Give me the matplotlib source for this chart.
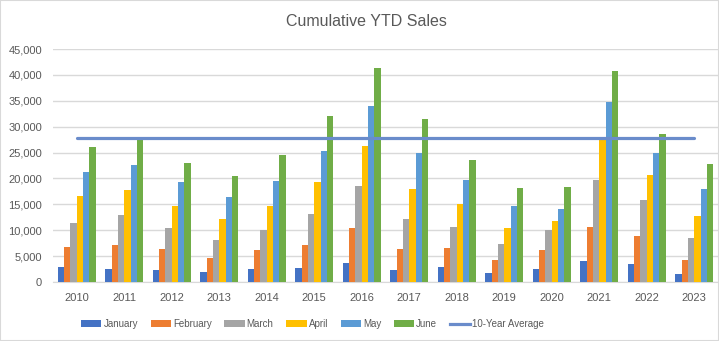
import matplotlib
matplotlib.use("Agg")
import matplotlib.pyplot as plt
import numpy as np
from matplotlib.patches import Rectangle
from matplotlib.lines import Line2D

plt.rcParams["font.family"] = ["Liberation Sans", "DejaVu Sans"]

years = ["2010", "2011", "2012", "2013", "2014", "2015", "2016", "2017",
         "2018", "2019", "2020", "2021", "2022", "2023"]
months = ["January", "February", "March", "April", "May", "June"]
january = [2900, 2500, 2400, 2000, 2600, 2800, 3700, 2300, 2900, 1800, 2600, 4100, 3500, 1600]
february = [6700, 7100, 6300, 4700, 6100, 7200, 10400, 6300, 6600, 4300, 6100, 10700, 8800, 4300]
march = [11300, 12900, 10500, 8200, 10100, 13100, 18500, 12100, 10700, 7300, 10000, 19700, 15900, 8500]
april = [16600, 17700, 14600, 12100, 14600, 19300, 26200, 17900, 15000, 10500, 11700, 27700, 20600, 12700]
may = [21200, 22600, 19300, 16400, 19500, 25300, 34000, 24900, 19700, 14600, 14100, 34700, 24900, 17900]
june = [26000, 27400, 23000, 20400, 24500, 32000, 41400, 31400, 23500, 18100, 18300, 40800, 28500, 22700]
ten_year_avg = [27800] * len(years)

series = [january, february, march, april, may, june]
colors = ["#4472C4", "#ED7D31", "#A5A5A5", "#FFC000", "#5B9BD5", "#70AD47"]
line_color = "#6A8CCB"
text_color = "#595959"

fig = plt.figure(figsize=(7.19, 3.41), dpi=100)
fig.patches.append(Rectangle((0, 0), 1, 1, transform=fig.transFigure,
                             fill=False, edgecolor="#D9D9D9", linewidth=1.5))
ax = fig.add_axes([53/719, 59/341, 665/719, (282-49)/341])

x = np.arange(len(years))
group_w = 0.80
bw = group_w / len(series)
handles = []
for i, (vals, c, name) in enumerate(zip(series, colors, months)):
    offs = -group_w/2 + bw*(i+0.5)
    b = ax.bar(x + offs, vals, width=bw, color=c, label=name, zorder=3)
    handles.append(b)

ln, = ax.plot(x, ten_year_avg, color=line_color, linewidth=2.3, zorder=4,
              label="10-Year Average", solid_capstyle="round")

ax.set_xlim(-0.5, len(years) - 0.5)
ax.set_ylim(0, 45000)
ax.set_yticks(np.arange(0, 45001, 5000))
ax.set_yticklabels([f"{v:,}" for v in range(0, 45001, 5000)])
ax.set_xticks(x)
ax.set_xticklabels(years)
ax.yaxis.grid(True, color="#D9D9D9", linewidth=1, zorder=0)
ax.set_axisbelow(True)
for s in ["top", "right", "left"]:
    ax.spines[s].set_visible(False)
ax.spines["bottom"].set_color("#D9D9D9")
ax.tick_params(axis="both", length=0, colors=text_color, labelsize=8)
ax.tick_params(axis="x", pad=8)
ax.tick_params(axis="y", pad=8)

fig.text(366/719, 1 - 21/341, "Cumulative YTD Sales", ha="center", va="center",
         fontsize=11.5, color=text_color)

leg_handles = handles + [Line2D([0], [0], color=line_color, linewidth=2.3)]
fig.legend(leg_handles, months + ["10-Year Average"], loc="center",
           bbox_to_anchor=(312.5/719, 1 - 324/341), ncol=7, frameon=False,
           fontsize=7, labelcolor=text_color, handlelength=2.1, handleheight=0.7,
           columnspacing=1.3, handletextpad=0.2)

fig.savefig("out.png", dpi=100)
